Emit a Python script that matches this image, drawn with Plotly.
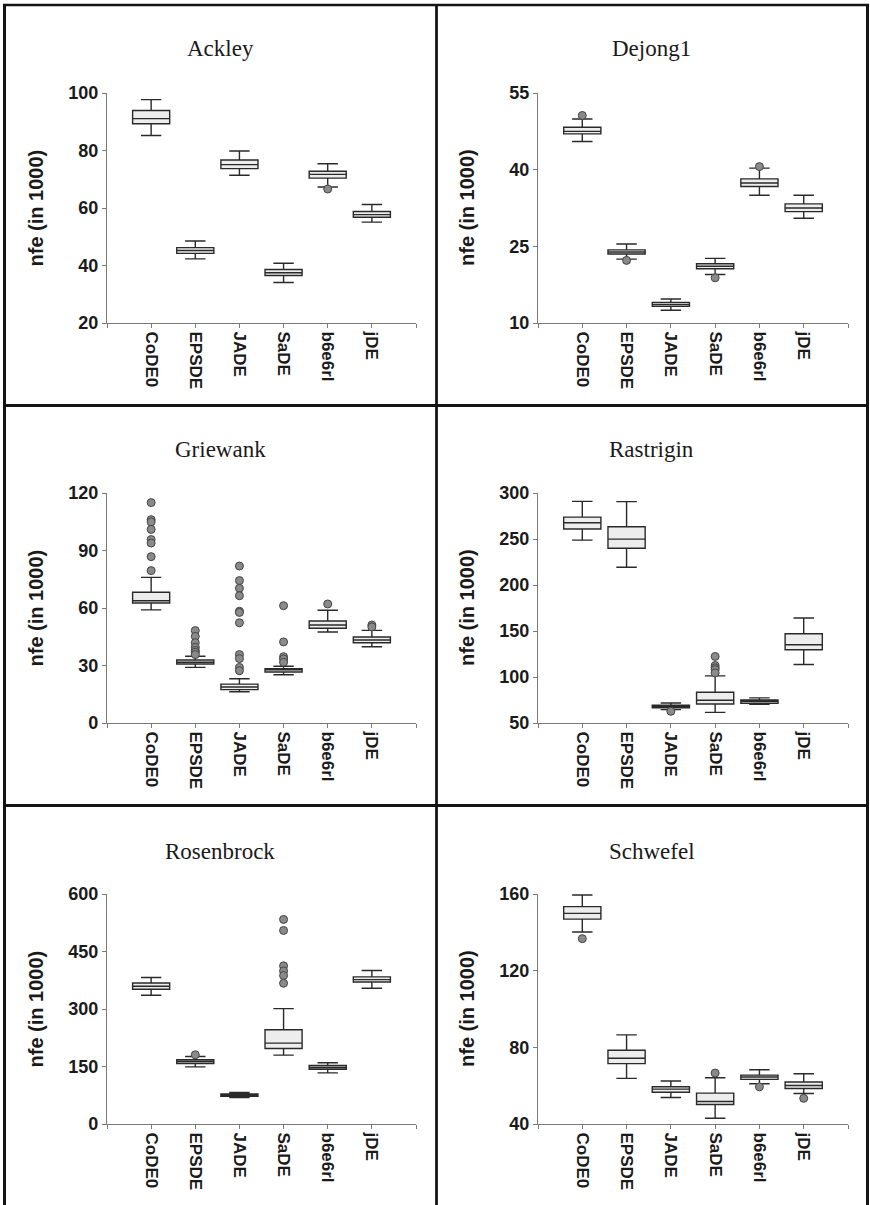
import plotly.graph_objects as go

algorithms = ["CoDE0", "EPSDE", "JADE", "SaDE", "b6e6rl", "jDE"]

# ---- Ackley ----
ackley_low = [85.2, 42.3, 71.4, 34.1, 67.3, 55.1]
ackley_q1 = [89.3, 44.2, 73.7, 36.5, 70.4, 56.8]
ackley_med = [91.1, 45.2, 75.1, 37.5, 71.7, 57.7]
ackley_q3 = [93.9, 46.2, 76.7, 38.6, 72.8, 58.8]
ackley_high = [97.7, 48.5, 79.8, 40.8, 75.4, 61.2]
ackley_out = [[], [], [], [], [66.6], []]

# ---- Dejong1 ----
dejong_low = [45.5, 22.5, 12.5, 19.5, 35.0, 30.5]
dejong_q1 = [47.0, 23.5, 13.25, 20.6, 36.7, 31.8]
dejong_med = [47.5, 23.9, 13.6, 21.1, 37.4, 32.5]
dejong_q3 = [48.3, 24.3, 14.0, 21.6, 38.2, 33.3]
dejong_high = [49.9, 25.45, 14.7, 22.65, 40.3, 35.0]
dejong_out = [[50.6], [22.25], [], [18.85], [40.6], []]

# ---- Griewank ----
griewank_low = [59.0, 29.0, 16.3, 25.2, 47.5, 39.8]
griewank_q1 = [62.6, 30.8, 17.4, 26.6, 49.4, 41.9]
griewank_med = [63.8, 31.7, 18.8, 27.7, 51.1, 43.3]
griewank_q3 = [68.2, 32.9, 20.3, 28.3, 53.2, 44.9]
griewank_high = [76.0, 34.8, 23.1, 29.6, 58.8, 48.3]
griewank_out = [
    [115.0, 106.1, 104.9, 101.0, 95.7, 93.9, 86.8, 79.5],
    [48.2, 45.2, 41.9, 39.5, 37.9, 36.9, 35.7],
    [81.9, 74.3, 70.3, 66.4, 58.3, 57.7, 52.3, 35.7, 33.6, 29.0, 27.3],
    [61.2, 42.3, 34.6, 33.4, 31.7],
    [62.1],
    [51.1, 50.1],
]

# ---- Rastrigin ----
rastrigin_low = [248.8, 219.3, 64.5, 61.6, 70.4, 113.6]
rastrigin_q1 = [260.8, 240.0, 66.4, 70.7, 71.4, 129.6]
rastrigin_med = [267.7, 249.9, 67.8, 74.7, 73.6, 135.0]
rastrigin_q3 = [273.8, 263.3, 69.3, 83.4, 75.1, 147.0]
rastrigin_high = [290.9, 290.6, 71.8, 101.2, 77.3, 164.1]
rastrigin_out = [[], [], [62.7], [122.3, 112.5, 110.0, 108.0, 104.5], [], []]

# ---- Rosenbrock ----
rosen_low = [335.8, 149.1, 69.0, 179.7, 133.4, 354.1]
rosen_q1 = [351.5, 157.9, 72.4, 197.1, 143.0, 370.6]
rosen_med = [359.3, 163.1, 75.9, 211.0, 147.4, 376.7]
rosen_q3 = [368.0, 167.5, 78.5, 245.9, 152.6, 383.7]
rosen_high = [382.0, 176.2, 82.0, 300.9, 159.6, 400.3]
rosen_out = [[], [180.5], [], [533.7, 504.9, 412.5, 399.4, 387.2, 367.2], [], []]

# ---- Schwefel ----
schwefel_low = [140.2, 63.8, 53.8, 43.0, 61.0, 55.9]
schwefel_q1 = [146.9, 71.5, 56.6, 50.2, 63.3, 58.5]
schwefel_med = [149.9, 74.3, 58.2, 51.7, 64.5, 60.1]
schwefel_q3 = [153.4, 78.5, 59.4, 56.1, 65.5, 61.9]
schwefel_high = [159.5, 86.5, 62.4, 64.1, 68.3, 66.2]
schwefel_out = [[136.7], [], [], [66.6], [59.4], [53.4]]

panels = [
    ("Ackley", ackley_low, ackley_q1, ackley_med, ackley_q3, ackley_high, ackley_out, [20, 100], 20),
    ("Dejong1", dejong_low, dejong_q1, dejong_med, dejong_q3, dejong_high, dejong_out, [10, 55], 15),
    ("Griewank", griewank_low, griewank_q1, griewank_med, griewank_q3, griewank_high, griewank_out, [0, 120], 30),
    ("Rastrigin", rastrigin_low, rastrigin_q1, rastrigin_med, rastrigin_q3, rastrigin_high, rastrigin_out, [50, 300], 50),
    ("Rosenbrock", rosen_low, rosen_q1, rosen_med, rosen_q3, rosen_high, rosen_out, [0, 600], 150),
    ("Schwefel", schwefel_low, schwefel_q1, schwefel_med, schwefel_q3, schwefel_high, schwefel_out, [40, 160], 40),
]

W, H = 870, 1205          # target picture size (layout fractions relative to this)
H_FIG = 1225              # figure height (compensates the viewer's vertical squeeze)
TOP_SHIFT = 9.2
col_x = [(107, 416), (538, 848)]
row_y = [(92, 322), (492, 722), (893, 1123)]
panel_x = [(4.5, 436), (436, 867.5)]
title_y = [48, 448, 850]

fig = go.Figure()
layout = {}
annotations = []
positions = list(range(1, len(algorithms) + 1))

for i, (name, lo, q1, med, q3, hi, outs, yr, dt) in enumerate(panels):
    r, c = divmod(i, 2)
    n = "" if i == 0 else str(i + 1)
    xa, ya = "x" + n, "y" + n
    fig.add_trace(go.Box(
        x=positions, q1=q1, median=med, q3=q3, lowerfence=lo, upperfence=hi,
        xaxis=xa, yaxis=ya, width=0.84, whiskerwidth=0.55,
        fillcolor="#ededed", line=dict(color="#2a2a2a", width=1.4),
        boxpoints=False, showlegend=False, hoverinfo="skip",
    ))
    ox, oy = [], []
    for k, vals in enumerate(outs):
        for v in vals:
            ox.append(positions[k])
            oy.append(v)
    if ox:
        fig.add_trace(go.Scatter(
            x=ox, y=oy, mode="markers", xaxis=xa, yaxis=ya,
            marker=dict(size=8, color="#8a8a8a", line=dict(color="#444444", width=1)),
            showlegend=False, hoverinfo="skip",
        ))
    x0, x1 = col_x[c]
    y0, y1 = row_y[r]
    layout["xaxis" + n] = dict(
        domain=[x0 / W, x1 / W], anchor=ya, range=[0, 7],
        tickvals=[0] + positions + [7], ticktext=[""] + algorithms + [""],
        tickangle=90, ticks="outside", ticklen=4, tickcolor="#7a7a7a",
        showline=True, linecolor="#7a7a7a", linewidth=1.2,
        showgrid=False, zeroline=False,
        tickfont=dict(family="Liberation Sans, Arial", size=17, color="#1a1a1a", weight="bold"),
    )
    layout["yaxis" + n] = dict(
        domain=[1 - y1 / H, 1 - y0 / H], anchor=xa, range=yr,
        tick0=yr[0], dtick=dt, ticks="outside", ticklen=4, tickcolor="#7a7a7a",
        showline=True, linecolor="#7a7a7a", linewidth=1.2,
        showgrid=False, zeroline=False,
        tickfont=dict(family="Liberation Sans, Arial", size=18, color="#1a1a1a", weight="bold"),
    )
    px0, px1 = panel_x[c]
    annotations.append(dict(
        text=name, xref="paper", yref="paper",
        x=(px0 + px1) / 2 / W, y=1 - title_y[r] / H,
        xanchor="center", yanchor="middle", showarrow=False,
        font=dict(family="Liberation Serif, Times New Roman", size=23, color="#1a1a1a"),
    ))
    annotations.append(dict(
        text="nfe (in 1000)", xref="paper", yref="paper",
        x=(px0 + 31) / W, y=1 - (y0 + y1) / 2 / H, textangle=-90,
        xanchor="center", yanchor="middle", showarrow=False,
        font=dict(family="Liberation Sans, Arial", size=20, color="#1a1a1a", weight="bold"),
    ))

shapes = []
lc = "#141414"
def vline(x, y0, y1, w):
    shapes.append(dict(type="line", xref="paper", yref="paper",
                       x0=x / W, x1=x / W, y0=1 - y0 / H, y1=1 - y1 / H,
                       line=dict(color=lc, width=w)))
def hline(y, x0, x1, w):
    shapes.append(dict(type="line", xref="paper", yref="paper",
                       x0=x0 / W, x1=x1 / W, y0=1 - y / H, y1=1 - y / H,
                       line=dict(color=lc, width=w)))

vline(4.5, 3, H + 10, 3)
vline(436.5, 3, H + 10, 2.8)
vline(867.5, 3, H + 10, 3)
hline(4, 3, 869, 2.4)
hline(404.5, 3, 869, 2.8)
hline(804.5, 3, 869, 2.8)

fig.update_layout(
    width=W, height=H_FIG, margin=dict(l=0, r=0, t=0, b=0),
    paper_bgcolor="white", plot_bgcolor="white",
    annotations=annotations, shapes=shapes, **layout,
)

post = (
    "document.documentElement.style.margin='0px';"
    "document.body.style.margin='0px';"
    "document.body.style.overflow='hidden';"
    "var gd=document.getElementById('{plot_id}');"
    "gd.style.position='fixed';gd.style.top='-" + str(TOP_SHIFT) + "px';gd.style.left='0px';"
)

fig.write_html("out.html", config={"displayModeBar": False}, post_script=post)
